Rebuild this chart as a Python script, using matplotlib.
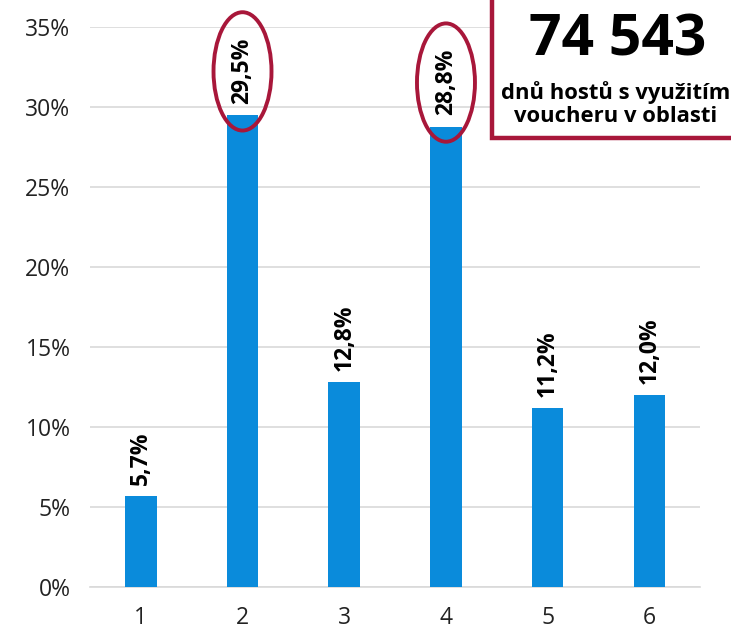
import matplotlib.pyplot as plt
from matplotlib.patches import Ellipse, Rectangle

plt.rcParams['font.family'] = ['Open Sans', 'DejaVu Sans']

kategorie = [1, 2, 3, 4, 5, 6]
podily = [0.057, 0.295, 0.128, 0.288, 0.112, 0.120]
popisky = ["5,7%", "29,5%", "12,8%", "28,8%", "11,2%", "12,0%"]
zvyraznene = [2, 4]
celkem = "74 543"
podtitul = "dnů hostů s využitím\nvoucheru v oblasti"

modra = "#0A8BDB"
cervena = "#A8173A"

fig = plt.figure(figsize=(7.31, 6.33), dpi=100)
ax = fig.add_axes([0.123, 0.0727, 0.835, 0.884])

ax.bar(kategorie, podily, width=0.31, color=modra, zorder=3)
ax.set_xlim(0.5, 6.5)
ax.set_ylim(0, 0.35)
ax.set_yticks([0, 0.05, 0.10, 0.15, 0.20, 0.25, 0.30, 0.35])
ax.set_yticklabels(["0%", "5%", "10%", "15%", "20%", "25%", "30%", "35%"])
ax.set_xticks(kategorie)
ax.tick_params(length=0, labelsize=16.5, colors="#222222", pad=14)
ax.tick_params(axis="x", pad=14)
ax.grid(axis="y", color="#d9d9d9", lw=1.2, zorder=0)
for s in ["top", "right", "left"]:
    ax.spines[s].set_visible(False)
ax.spines["bottom"].set_color("#d9d9d9")
ax.spines["bottom"].set_linewidth(1.2)

for k, v, t in zip(kategorie, podily, popisky):
    ax.annotate(t, (k, v), xytext=(0, 8), textcoords="offset points",
                rotation=90, ha="center", va="bottom",
                fontsize=16.5, fontweight="bold", color="black")

for k in zvyraznene:
    v = podily[k - 1]
    e = Ellipse((k, v + 0.0275), 0.57, 0.074, fill=False,
                edgecolor=cervena, lw=2.8, zorder=5, clip_on=False)
    ax.add_patch(e)

# box vpravo nahore
box = Rectangle((492 / 731, 1 - 138 / 633), 0.5, 0.3, transform=fig.transFigure,
                fill=True, facecolor="white", edgecolor=cervena, lw=3.2,
                zorder=10, clip_on=False)
fig.patches.append(box)
fig.text(618 / 731, 1 - 40 / 633, celkem, ha="center", va="center",
         fontsize=41, fontweight="bold", zorder=11)
fig.text(616 / 731, 1 - 104 / 633, podtitul, ha="center", va="center",
         fontsize=15.8, fontweight="bold", linespacing=1.12, zorder=11)

fig.savefig("out.png", dpi=100)
